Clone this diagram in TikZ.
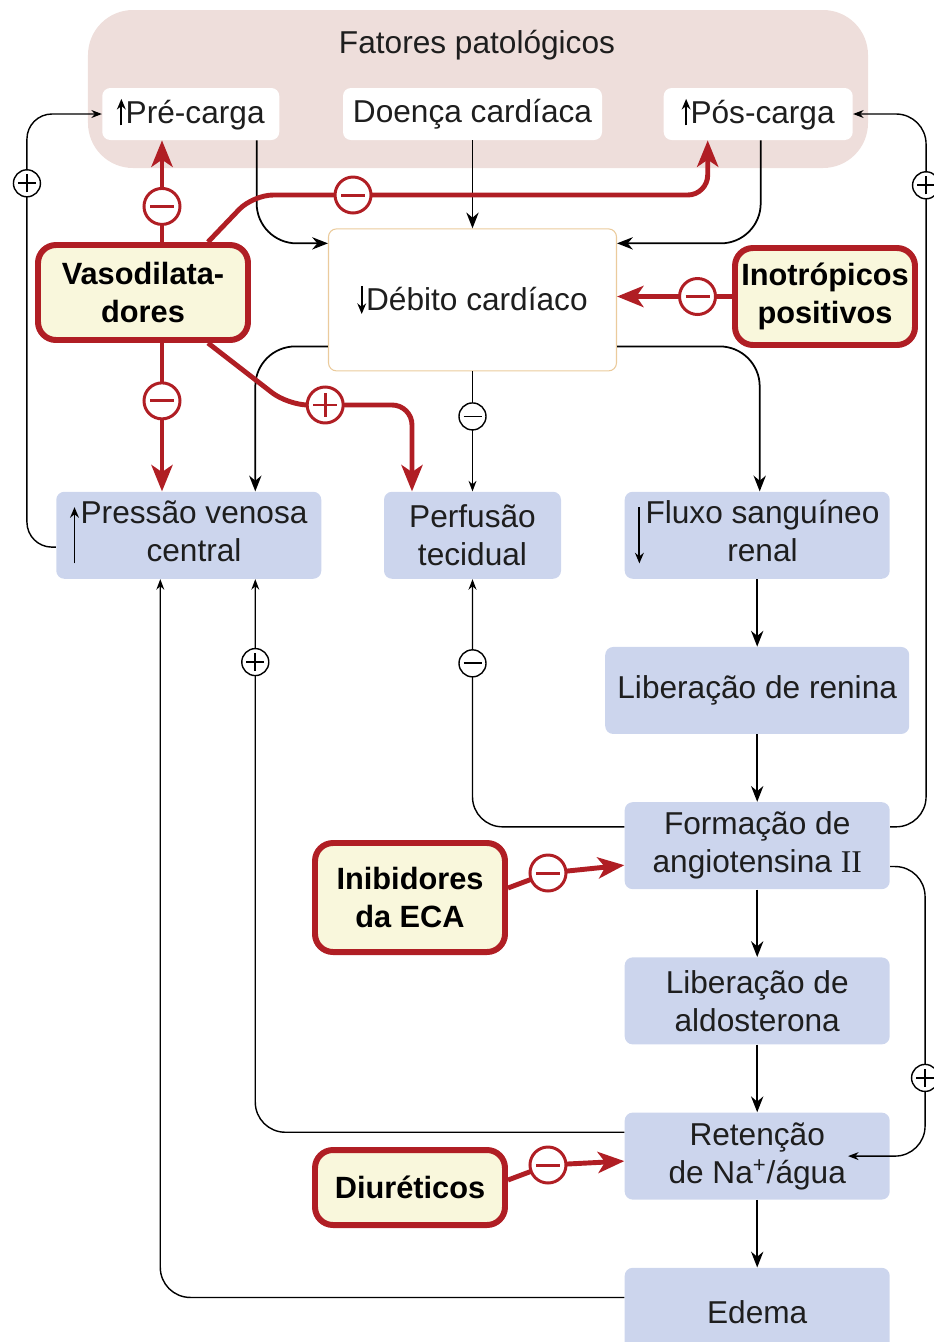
\documentclass[tikz,border=0pt]{standalone}
\usepackage{fontspec}
\setmainfont{Liberation Sans}
\newfontfamily\romii{Liberation Serif}
\usepackage{xcolor}
\usepackage{tikz}
\usetikzlibrary{positioning,arrows.meta,calc}
\definecolor{fatbg}{HTML}{EEDEDB}
\definecolor{renblue}{HTML}{CCD5ED}
\definecolor{drugred}{HTML}{B01E24}
\definecolor{drugfill}{HTML}{F9F7DC}
\definecolor{debstroke}{HTML}{EBCB9C}
\definecolor{inkgrey}{HTML}{1E1E1E}
\newcommand{\upar}{\tikz[baseline=0pt]\draw[black,line width=1.1pt,-{Stealth[length=6pt,width=5pt]}] (0,-1pt) -- (0,14pt);}
\newcommand{\dnar}{\tikz[baseline=0pt]\draw[black,line width=1.1pt,-{Stealth[length=6pt,width=5pt]}] (0,14pt) -- (0,-2pt);}
\newcommand{\tallup}{$\vcenter{\hbox{\tikz\draw[black,line width=1.1pt,-{Stealth[length=6pt,width=5pt]}] (0,0) -- (0,32pt);}}$\kern1pt}
\newcommand{\talldn}{$\vcenter{\hbox{\tikz\draw[black,line width=1.1pt,-{Stealth[length=6pt,width=5pt]}] (0,32pt) -- (0,0);}}$\kern1pt}
\tikzset{
  box/.style   = {rounded corners=1.6mm, align=center, inner sep=2pt, text=inkgrey,
                  font=\fontsize{18}{21.5}\selectfont},
  fator/.style = {box, fill=white, minimum height=10.4mm},
  renal/.style = {box, fill=renblue, minimum width=53mm, minimum height=17.4mm},
  drug/.style  = {box, rounded corners=3.6mm, draw=drugred, fill=drugfill, line width=3.4pt,
                  text=black, font=\fontsize{17.5}{21.5}\selectfont\bfseries},
  grp/.style   = {rounded corners=9mm, fill=fatbg, minimum width=156mm, minimum height=31.6mm},
  arr/.style   = {-{Stealth[length=9pt,width=7pt]}, line width=1pt, rounded corners=8mm},
  tarr/.style  = {-{Stealth[length=6pt,width=4.5pt]}, line width=0.8pt, rounded corners=6mm},
  rarr/.style  = {-{Stealth[length=15pt,width=12pt,inset=4pt]}, line width=2.8pt, draw=drugred,
                  rounded corners=4mm},
  mneg/.style  = {circle, draw=black, fill=white, line width=0.8pt, minimum size=5.4mm, inner sep=0pt,
                  path picture={\draw[-, line width=1pt]
                    ([xshift=-1.8mm]path picture bounding box.center) -- ([xshift=1.8mm]path picture bounding box.center);}},
  mplus/.style = {circle, draw=black, fill=white, line width=0.8pt, minimum size=5.4mm, inner sep=0pt,
                  path picture={\draw[-, line width=1pt]
                    ([xshift=-1.8mm]path picture bounding box.center) -- ([xshift=1.8mm]path picture bounding box.center)
                    ([yshift=-1.8mm]path picture bounding box.center) -- ([yshift=1.8mm]path picture bounding box.center);}},
  rneg/.style  = {circle, draw=drugred, fill=white, line width=1.7pt, minimum size=7.2mm, inner sep=0pt,
                  path picture={\draw[-, drugred, line width=1.7pt]
                    ([xshift=-2.4mm]path picture bounding box.center) -- ([xshift=2.4mm]path picture bounding box.center);}},
  rplus/.style = {circle, draw=drugred, fill=white, line width=1.7pt, minimum size=7.2mm, inner sep=0pt,
                  path picture={\draw[-, drugred, line width=1.7pt]
                    ([xshift=-2.4mm]path picture bounding box.center) -- ([xshift=2.4mm]path picture bounding box.center)
                    ([yshift=-2.4mm]path picture bounding box.center) -- ([yshift=2.4mm]path picture bounding box.center);}},
}
\begin{document}
\begin{tikzpicture}[x=0.2mm, y=-0.2mm, node distance=13.5mm]
  \useasboundingbox (0,0) rectangle (934,1342);

  % --- fatores patologicos ---
  \node[grp] (fat) at (478,89) {};
  \node[box] (tit) at (477,45) {Fatores patológicos};
  \node[fator, minimum width=51.8mm] (doe) at (472.5,114) {Doença cardíaca};
  \node[fator, minimum width=35.4mm, left=12.6mm of doe] (prec) {\upar Pré-carga};
  \node[fator, minimum width=37.8mm, right=12.2mm of doe] (posc) {\upar Pós-carga};

  \node[box, draw=debstroke, line width=0.6pt, fill=white, minimum width=57.6mm,
        minimum height=28.4mm, below=17.6mm of doe] (deb) {\dnar Débito cardíaco};

  % --- renal chain ---
  \node[renal, minimum width=35.4mm, below=24mm of deb] (per) {Perfusão\\tecidual};
  \node[renal, left=12.4mm of per] (pvc) {\tallup\begin{tabular}{@{}c@{}}Pressão venosa\\central\end{tabular}};
  \node[renal, right=12.6mm of per] (flu) {\talldn\begin{tabular}{@{}c@{}}Fluxo sanguíneo\\renal\end{tabular}};
  \node[renal, minimum width=60.8mm, below=of flu] (ren) {Liberação de renina};
  \node[renal, below=of ren] (ang) {Formação de\\angiotensina {\romii II}};
  \node[renal, below=of ang] (ald) {Liberação de\\aldosterona};
  \node[renal, below=of ald] (ret) {Retenção\\de Na\textsuperscript{+}/água};
  \node[renal, minimum height=17.6mm, below=of ret] (ede) {Edema};

  % --- drugs ---
  \node[drug, minimum width=42mm, minimum height=19mm] (vas) at (143,292.5) {Vasodilata-\\dores};
  \node[drug, minimum width=36mm, minimum height=19.4mm, inner xsep=0pt] (ino) at (825,296.5) {Inotrópicos\\positivos};
  \node[drug, minimum width=38mm, minimum height=21.8mm] (ini) at (410,897.5) {Inibidores\\da ECA};
  \node[drug, minimum width=38mm, minimum height=15mm] (diu) at (410,1187.5) {Diuréticos};

  % --- black loops ---
  \draw[arr] ([xshift=-4.6mm]prec.south east) |- ([yshift=-3mm]deb.north west);
  \draw[arr] (doe.south) -- (doe.south |- deb.north);
  \draw[arr] ([xshift=0.5mm]posc.south) |- ([yshift=-3mm]deb.north east);
  \draw[arr] ([yshift=5mm]deb.south west) -| ([xshift=13.3mm]pvc.north);
  \draw[tarr] (deb.south) -- node[mneg, pos=0.375]{} (per.north);
  \draw[arr] ([yshift=5mm]deb.south east) -| ([xshift=0.5mm]flu.north);
  \foreach \a/\b in {flu/ren, ren/ang, ang/ald, ald/ret, ret/ede}
    \draw[arr] (\a) -- (\b);

  \draw[tarr, rounded corners=5mm] ([yshift=6.4mm]pvc.south west) -| node[mplus, pos=0.92]{}
    ([xshift=-15mm]prec.west) -- (prec.west);
  \draw[tarr] ([yshift=-5mm]ang.north east) -| node[mplus, pos=0.95]{}
    ([xshift=14.6mm]posc.east) -- (posc.east);
  \draw[tarr] ([yshift=-5mm]ang.north west) -| node[mneg, pos=0.83]{} (per.south);
  \draw[tarr] ([yshift=4.6mm]ang.south east) -| node[mplus, pos=0.865]{}
    ([xshift=7mm]ret.east) -- ([xshift=-8.4mm]ret.east);
  \draw[tarr] ([yshift=-4mm]ret.north west) -| node[mplus, pos=0.925]{} ([xshift=13.3mm]pvc.south);
  \draw[tarr] ([yshift=-6mm]ede.north west) -| ([xshift=-5.7mm]pvc.south);

  % --- drug effects ---
  \coordinate (va) at ([xshift=3.8mm]vas.north);
  \coordinate (vb) at ([xshift=3.8mm]vas.south);
  \draw[rarr] (va) -- node[rneg, pos=0.35]{} (va |- prec.south);
  \draw[rarr] ([xshift=-8.6mm]vas.north east) -- ++(9mm,9.4mm) -| node[rneg, pos=0.11]{}
    ([xshift=-10.1mm]posc.south);
  \draw[rarr] (vb) -- node[rneg, pos=0.39]{} (vb |- pvc.north);
  \draw[rarr] ([xshift=-8.6mm]vas.south east) -- ++(16mm,-12.4mm) -| node[rplus, pos=0.15]{}
    ([xshift=-12.1mm]per.north);
  \draw[rarr] (ino.west) -- node[rneg, pos=0.3]{} (ino.west -| deb.east);
  \draw[rarr] ([yshift=1.9mm]ini.east) -- ++(8mm,3mm) node[rneg]{} -- ([yshift=-3.9mm]ang.west);
  \draw[rarr] ([yshift=1.5mm]diu.east) -- ++(8mm,3mm) node[rneg]{} -- ([yshift=-1mm]ret.west);
\end{tikzpicture}
\end{document}
